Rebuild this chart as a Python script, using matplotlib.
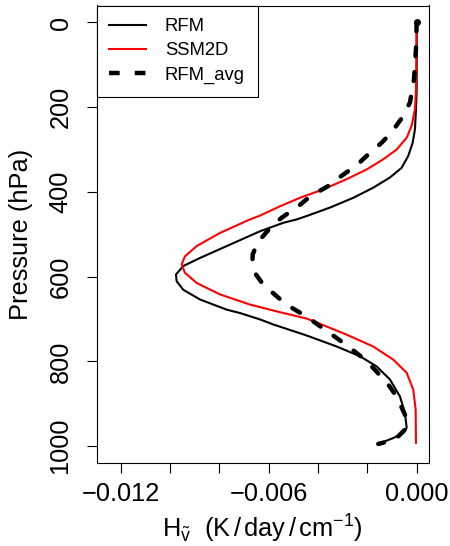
#Heating rate profiles: RFM vs SSM2D vs RFM_avg
import matplotlib
matplotlib.use('Agg')
import matplotlib.pyplot as plt
from matplotlib.lines import Line2D

##########################################
#Data
p_rfm = [0, 87, 158, 205, 252, 284, 315, 343, 366, 390, 414, 437, 457, 465, 473, 493, 528, 556,
	575, 595, 611, 631, 654, 678, 686, 701, 713, 739, 765, 788, 812, 843, 883, 922, 957, 969, 981, 995]
h_rfm = [0, 0, 0, -0.000028, -0.000069, -0.000162, -0.000341, -0.000608, -0.001082, -0.001759,
	-0.002570, -0.003515, -0.004459, -0.004865, -0.005408, -0.006353, -0.007703, -0.008785,
	-0.009462, -0.009758, -0.009730, -0.009462, -0.008785, -0.007703, -0.007163, -0.006353,
	-0.005813, -0.004459, -0.003243, -0.002299, -0.001622, -0.001082, -0.000677, -0.000474,
	-0.000405, -0.000543, -0.000949, -0.001557]

p_ssm = [0, 87, 158, 205, 244, 272, 300, 323, 347, 370, 394, 414, 434, 456, 465, 497, 528, 552,
	571, 591, 615, 642, 666, 684, 699, 705, 737, 765, 796, 827, 867, 914, 993]
h_ssm = [0, -0.000008, -0.000028, -0.000069, -0.000203, -0.000405, -0.000811, -0.001354,
	-0.002027, -0.002838, -0.003786, -0.004731, -0.005542, -0.006353, -0.006758, -0.007974,
	-0.008919, -0.009393, -0.009527, -0.009393, -0.008919, -0.007974, -0.006758, -0.005542,
	-0.004459, -0.004192, -0.002838, -0.001759, -0.000949, -0.000405, -0.000138, -0.000041,
	-0.000028]

p_avg = [0, 63, 134, 189, 221, 259, 284, 315, 337, 366, 386, 411, 432, 461, 481, 519, 548, 567,
	595, 619, 653, 671, 697, 717, 745, 765, 796, 820, 855, 883, 926, 957, 985, 995]
h_avg = [0, -0.000028, -0.000109, -0.000272, -0.000543, -0.001014, -0.001419, -0.002027,
	-0.002432, -0.003138, -0.003584, -0.004326, -0.004759, -0.005473, -0.005878, -0.006446,
	-0.006649, -0.006657, -0.006515, -0.006219, -0.005542, -0.005136, -0.004395, -0.003920,
	-0.003243, -0.002773, -0.002096, -0.001691, -0.001151, -0.000811, -0.000474, -0.000405,
	-0.000880, -0.001557]

series_labels = ['RFM', 'SSM2D', 'RFM_avg']
x_ticks = [-0.012, -0.010, -0.008, -0.006, -0.004, -0.002, 0.0]
x_ticklabels = ['\u22120.012', '', '', '\u22120.006', '', '', '0.000']
y_ticks = [0, 200, 400, 600, 800, 1000]

##########################################
#Style
plt.rcParams['font.family'] = ['Liberation Sans', 'DejaVu Sans']
plt.rcParams['mathtext.fontset'] = 'custom'
plt.rcParams['mathtext.rm'] = 'Liberation Sans'
plt.rcParams['mathtext.it'] = 'Liberation Sans:italic'

font_size = 18.3
dash_pat = (2.0, 3.6)

fig = plt.figure(figsize=[4.5, 5.46], dpi=100)
ax = fig.add_axes([96.5/450, 1-463/546, (429-96.5)/450, (463-5.5)/546])

ax.plot(h_rfm, p_rfm, color='black', lw=1.5, solid_capstyle='round', solid_joinstyle='round')
ax.plot(h_ssm, p_ssm, color='red', lw=1.5, solid_capstyle='round', solid_joinstyle='round')
ax.plot(h_avg, p_avg, color='black', lw=3.2, dashes=dash_pat, dash_capstyle='round', dash_joinstyle='round')
ax.plot(h_avg[0], p_avg[0], 'o', color='black', ms=4)

ax.set_xlim(-0.01298, 0.0005)
ax.set_ylim(1040, -40)

ax.set_xticks(x_ticks)
ax.set_xticklabels(x_ticklabels, fontsize=font_size)
ax.set_yticks(y_ticks)
ax.set_yticklabels([str(v) for v in y_ticks], fontsize=font_size, rotation=90, va='center')
ax.tick_params(axis='x', direction='out', length=7.2, width=0.8, pad=6.5)
ax.tick_params(axis='y', direction='out', length=7.2, width=0.8, pad=10.0)
for sp in ax.spines.values():
	sp.set_linewidth(0.8)
	sp.set_color('black')

ax.set_ylabel('Pressure (hPa)', fontsize=font_size, labelpad=11)
ax.set_xlabel(r'$\mathrm{H}_{\tilde{\mathrm{v}}}\ \ (\mathrm{K\,/\,day\,/\,cm}^{-1})$', fontsize=font_size, labelpad=5)

#Legend
handles = [Line2D([], [], color='black', lw=1.5),
	Line2D([], [], color='red', lw=1.5),
	Line2D([], [], color='black', lw=3.2, dashes=(2.4, 3.4), dash_capstyle='butt')]
leg = ax.legend(handles, series_labels, loc='upper left', bbox_to_anchor=(0, 1), borderaxespad=0,
	fontsize=13.3, frameon=True, fancybox=False, edgecolor='black', framealpha=1,
	handlelength=2.0, handletextpad=1.0, borderpad=0.7, labelspacing=0.38)
leg.get_frame().set_linewidth(0.8)

plt.savefig('out.png', dpi=100)
